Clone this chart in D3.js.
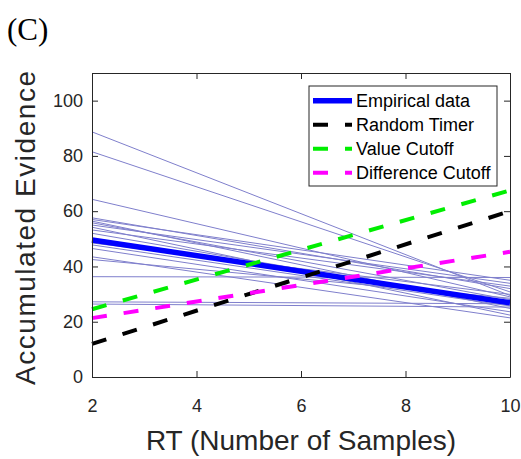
<!DOCTYPE html>
<html>
<head>
<meta charset="utf-8">
<script src="https://cdn.jsdelivr.net/npm/d3@7"></script>
<style>
  body { margin: 0; background: #fff; }
  svg { display: block; }
</style>
</head>
<body>
<div id="chart"></div>
<script>
// RT range shown on the x axis
var rtRange = [2, 10];

// individual subjects (fitted lines): value at RT=2 and at RT=10
var subjStart = [88.7, 81.5, 64.3, 57.6, 57.0, 56.4, 55.8, 55.0, 54.2, 53.2, 52.0, 48.5, 47.8, 46.5, 43.5, 42.5, 36.3, 27.2, 26.4];
var subjEnd   = [29.5, 30.8, 29.0, 32.0, 35.0, 24.8, 28.0, 33.9, 22.4, 32.9, 26.0, 29.9, 25.7, 23.6, 21.4, 28.5, 36.0, 26.5, 25.3];

// group lines: [value at RT=2, value at RT=10]
var seriesNames = ["Empirical data", "Random Timer", "Value Cutoff", "Difference Cutoff"];
var seriesVals  = [[49.6, 26.9], [12.0, 60.0], [24.5, 67.5], [21.3, 45.3]];
var seriesColors = ["#0000ff", "#000000", "#00ee00", "#ff00ff"];

var xTicks = [2, 4, 6, 8, 10];
var yTicks = [0, 20, 40, 60, 80, 100];

var svgWidth = 521, svgHeight = 459;
var margin = { top: 73, right: 11, bottom: 82, left: 92 };
var width = svgWidth - margin.left - margin.right;
var height = svgHeight - margin.top - margin.bottom;

var svg = d3.select("#chart").append("svg")
  .attr("width", svgWidth)
  .attr("height", svgHeight);

var g = svg.append("g")
  .attr("transform", `translate(${margin.left},${margin.top})`);

var x = d3.scaleLinear().domain([2, 10]).range([0, width]);
var y = d3.scaleLinear().domain([0, 110]).range([height, 0]);

var line = d3.line().x(d => x(d[0])).y(d => y(d[1]));

// thin subject lines
g.selectAll(".subj")
  .data(subjStart.map((s, i) => [[rtRange[0], s], [rtRange[1], subjEnd[i]]]))
  .enter().append("path")
  .attr("class", "subj")
  .attr("d", line)
  .attr("fill", "none")
  .attr("stroke", "#7f7fcc")
  .attr("stroke-width", 1);

// group lines
seriesVals.forEach(function(v, i) {
  g.append("path")
    .datum([[rtRange[0], v[0]], [rtRange[1], v[1]]])
    .attr("d", line)
    .attr("fill", "none")
    .attr("stroke", seriesColors[i])
    .attr("stroke-width", i == 0 ? 5.5 : 4)
    .attr("stroke-dasharray", i == 0 ? null : "15,17");
});

// axes, MATLAB style box with inward ticks
var tickStyle = function(sel) {
  sel.selectAll("path").attr("stroke", "#262626");
  sel.selectAll("line").attr("stroke", "#262626");
  sel.selectAll("text").attr("fill", "#262626")
    .style("font-family", "'Liberation Sans', Arial, sans-serif")
    .style("font-size", "18px");
};

g.append("g")
  .attr("transform", `translate(0,${height})`)
  .call(d3.axisBottom(x).tickValues(xTicks).tickSize(-6).tickSizeOuter(0).tickPadding(22))
  .call(tickStyle);

g.append("g")
  .call(d3.axisLeft(y).tickValues(yTicks).tickSize(-6).tickSizeOuter(0).tickPadding(9))
  .call(tickStyle);

g.append("g")
  .call(d3.axisTop(x).tickValues(xTicks).tickSize(-6).tickSizeOuter(0).tickFormat(""))
  .call(tickStyle);

g.append("g")
  .attr("transform", `translate(${width},0)`)
  .call(d3.axisRight(y).tickValues(yTicks).tickSize(-6).tickSizeOuter(0).tickFormat(""))
  .call(tickStyle);

// axis titles
g.append("text")
  .attr("x", width / 2)
  .attr("y", height + 73)
  .attr("text-anchor", "middle")
  .attr("fill", "#262626")
  .style("font-family", "'Liberation Sans', Arial, sans-serif")
  .style("font-size", "28px")
  .text("RT (Number of Samples)");

g.append("text")
  .attr("transform", `translate(${35 - margin.left},${height / 2 + 3}) rotate(-90)`)
  .attr("text-anchor", "middle")
  .attr("textLength", 314)
  .attr("lengthAdjust", "spacing")
  .attr("fill", "#262626")
  .style("font-family", "'Liberation Sans', Arial, sans-serif")
  .style("font-size", "28px")
  .text("Accumulated Evidence");

// panel letter
svg.append("text")
  .attr("x", 7)
  .attr("y", 40)
  .attr("fill", "#000")
  .style("font-family", "'Liberation Serif', 'Times New Roman', serif")
  .style("font-size", "31px")
  .text("(C)");

// legend
var legend = svg.append("g").attr("transform", "translate(309,86)");
legend.append("rect")
  .attr("width", 188)
  .attr("height", 100)
  .attr("fill", "#fff")
  .attr("stroke", "#262626")
  .attr("stroke-width", 1);

seriesNames.forEach(function(name, i) {
  var row = legend.append("g").attr("transform", `translate(0,${14.7 + i * 24})`);
  row.append("line")
    .attr("x1", 4).attr("x2", 43)
    .attr("stroke", seriesColors[i])
    .attr("stroke-width", i == 0 ? 5.5 : 4)
    .attr("stroke-dasharray", i == 0 ? null : "15,17");
  row.append("text")
    .attr("x", 47)
    .attr("dy", "0.35em")
    .attr("fill", "#000")
    .style("font-family", "'Liberation Sans', Arial, sans-serif")
    .style("font-size", "18px")
    .text(name);
});
</script>
</body>
</html>
